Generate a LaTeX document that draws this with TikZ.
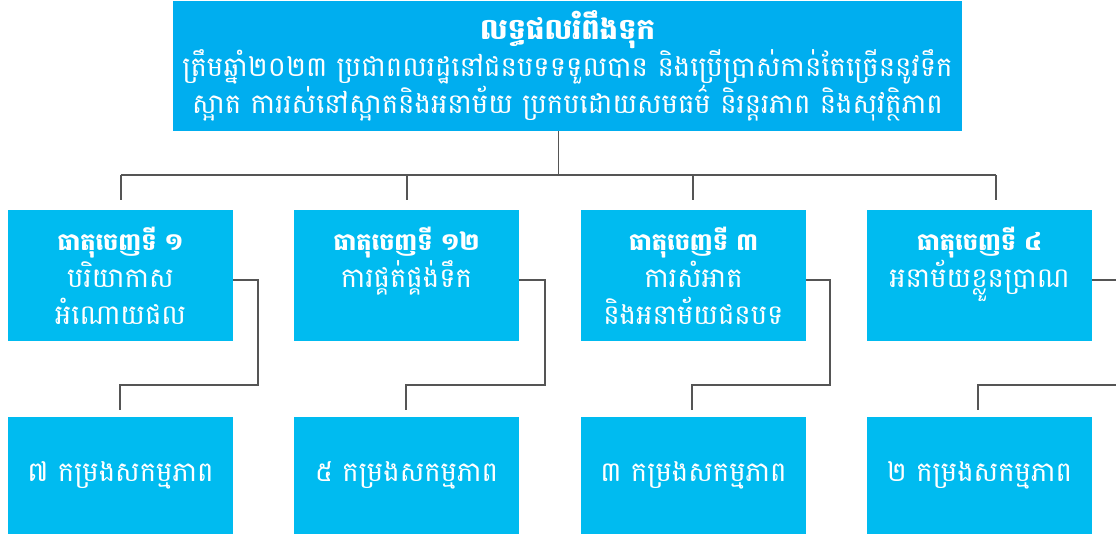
\documentclass[tikz,border=0pt]{standalone}
\usepackage{fontspec}
\newfontfamily\km[Script=Khmer]{Battambang}
\definecolor{topblue}{RGB}{0,174,239}
\definecolor{boxblue}{RGB}{0,187,240}
\definecolor{linegray}{RGB}{85,85,85}
\newcommand{\toptitle}[1]{{\fontsize{29}{37}\selectfont\bfseries #1}}
\newcommand{\boxtitle}[1]{{\fontsize{24}{37}\selectfont\bfseries #1}}
\begin{document}
\begin{tikzpicture}[x=1pt,y=-1pt,
  topbox/.style={fill=topblue, minimum width=789pt, minimum height=130pt, inner sep=0pt, text=white, align=center, font=\km\fontsize{27.5}{37}\selectfont},
  outbox/.style={fill=boxblue, minimum width=225pt, minimum height=131pt, inner sep=0pt, text=white, align=center, font=\km\fontsize{27.5}{37}\selectfont},
  actbox/.style={fill=boxblue, minimum width=225pt, minimum height=117pt, inner sep=0pt, text=white, align=center, font=\km\fontsize{27.5}{37}\selectfont},
  conn/.style={draw=linegray, line width=1.4pt},
  thinconn/.style={draw=linegray, line width=1pt}
]
\useasboundingbox (0,0) rectangle (1116,533);
\node[topbox] (top) at (567.5,66) {\toptitle{លទ្ធផលរំពឹងទុក}\\ត្រឹមឆ្នាំ២០២៣ ប្រជាពលរដ្ឋនៅជនបទទទួលបាន និងប្រើប្រាស់កាន់តែច្រើននូវទឹក\\ស្អាត ការរស់នៅស្អាតនិងអនាម័យ ប្រកបដោយសមធម៌ និរន្តរភាព និងសុវត្ថិភាព};

\node[outbox] (o1) at (120.5,275.5) {\boxtitle{ធាតុចេញទី ១}\\បរិយាកាស\\អំណោយផល};
\node[outbox] (o2) at (406.5,275.5) {\boxtitle{ធាតុចេញទី ១២}\\ការផ្គត់ផ្គង់ទឹក\\\mbox{}};
\node[outbox] (o3) at (693.5,275.5) {\boxtitle{ធាតុចេញទី ៣}\\ការសំអាត\\និងអនាម័យជនបទ};
\node[outbox] (o4) at (979.5,275.5) {\boxtitle{ធាតុចេញទី ៤}\\អនាម័យខ្លួនប្រាណ\\\mbox{}};

\node[actbox] (a1) at (120.5,475.5) {៧ កម្រងសកម្មភាព};
\node[actbox] (a2) at (406.5,475.5) {៥ កម្រងសកម្មភាព};
\node[actbox] (a3) at (693.5,475.5) {៣ កម្រងសកម្មភាព};
\node[actbox] (a4) at (979.5,475.5) {២ កម្រងសកម្មភាព};

% top bus
\coordinate (bus) at (558,175);
\coordinate (busL) at (121,175);
\coordinate (busR) at (996,175);
\draw[thinconn] (top.south -| bus) -- (bus);
\draw[conn] (busL) -- (busR);
\draw[conn] (busL) -- (busL |- 0,200);
\draw[conn] (bus -| 407,0) -- (407,200);
\draw[conn] (bus -| 693,0) -- (693,200);
\draw[conn] (busR) -- (busR |- 0,200);

% side connectors
\coordinate (r1) at (258,385);
\coordinate (r2) at (545,385);
\coordinate (r3) at (830,385);
\coordinate (edgeA) at (1116,280);
\coordinate (edgeB) at (1116,385);
\draw[conn] (o1.east |- 0,280) -| (r1) -| (120,410);
\draw[conn] (o2.east |- 0,280) -| (r2) -| (406,410);
\draw[conn] (o3.east |- 0,280) -| (r3) -| (692,410);
\draw[conn] (o4.east |- edgeA) -- (edgeA);
\draw[conn] (edgeB) -| (978,410);
\end{tikzpicture}
\end{document}
